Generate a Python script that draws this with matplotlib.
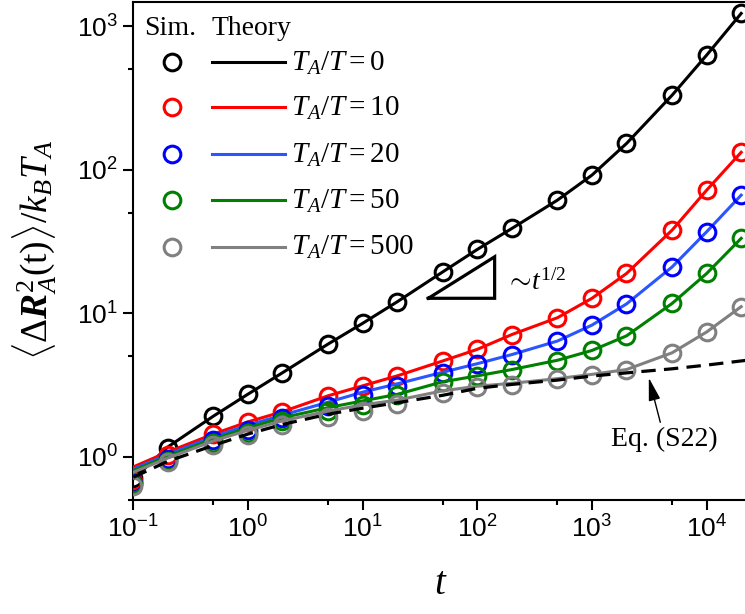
import numpy as np
import matplotlib
matplotlib.use("Agg")
import matplotlib.pyplot as plt
from matplotlib.ticker import LogLocator, NullFormatter

plt.rcParams["font.family"] = ["Liberation Sans", "DejaVu Sans"]
plt.rcParams["mathtext.fontset"] = "custom"
plt.rcParams["mathtext.rm"] = "Liberation Serif"
plt.rcParams["mathtext.it"] = "Liberation Serif:italic"
plt.rcParams["mathtext.bf"] = "Liberation Serif:bold:italic"

# time points (simulation and theory share the grid)
t = [0.1, 0.2, 0.5, 1, 2, 5, 10, 20, 50, 100, 200, 500, 1000, 2000, 5000, 10000, 20000]

# simulation (circles)
sim_0 = [0.71, 1.16, 1.92, 2.73, 3.85, 6.1, 8.5, 12.0, 19.4, 27.8, 38.9, 61.3, 91.6, 152, 330, 627, 1224]
sim_10 = [0.68, 1.03, 1.44, 1.75, 2.06, 2.66, 3.12, 3.66, 4.65, 5.6, 7.1, 9.3, 12.7, 18.9, 37.9, 71.9, 132]
sim_20 = [0.66, 0.97, 1.31, 1.53, 1.85, 2.26, 2.69, 3.1, 3.82, 4.4, 5.11, 6.4, 8.26, 11.6, 21.0, 36.9, 66.4]
sim_50 = [0.65, 0.94, 1.25, 1.46, 1.77, 2.1, 2.3, 2.69, 3.3, 3.66, 4.01, 4.68, 5.5, 6.95, 11.7, 18.9, 33.2]
sim_500 = [0.63, 0.92, 1.2, 1.42, 1.66, 1.9, 2.08, 2.33, 2.76, 3.05, 3.16, 3.5, 3.71, 4.01, 5.3, 7.4, 11.1]

# theory (lines)
th_0 = [0.70, 1.17, 1.92, 2.73, 3.85, 6.1, 8.5, 12.0, 19.4, 27.8, 38.9, 61.3, 91.6, 152, 330, 627, 1224]
th_10 = [0.85, 1.08, 1.44, 1.75, 2.06, 2.66, 3.12, 3.66, 4.65, 5.6, 7.1, 9.3, 12.7, 18.9, 37.9, 71.9, 132]
th_20 = [0.82, 1.04, 1.38, 1.66, 1.95, 2.4, 2.82, 3.22, 3.88, 4.45, 5.15, 6.4, 8.26, 11.6, 21.0, 36.9, 66.4]
th_50 = [0.80, 1.01, 1.33, 1.59, 1.87, 2.2, 2.45, 2.72, 3.33, 3.66, 4.05, 4.7, 5.5, 6.95, 11.7, 18.9, 33.2]
th_500 = [0.78, 0.98, 1.29, 1.53, 1.78, 2.08, 2.3, 2.48, 2.88, 3.1, 3.25, 3.5, 3.75, 4.05, 5.3, 7.4, 11.1]

# Eq. (S22), dashed
t_eq = [0.1, 0.2, 0.5, 1, 2, 5, 10, 20, 50, 100, 200, 500, 1000, 2000, 5000, 10000, 20000, 25000]
eq_s22 = [0.72, 0.93, 1.2, 1.44, 1.68, 1.98, 2.18, 2.38, 2.68, 3.0, 3.19, 3.42, 3.65, 3.84, 4.1, 4.35, 4.65, 4.75]

ratios = ["0", "10", "20", "50", "500"]
sim_series = [sim_0, sim_10, sim_20, sim_50, sim_500]
th_series = [th_0, th_10, th_20, th_50, th_500]
marker_colors = ["black", "#FF0000", "#0000FF", "#008000", "#808080"]
line_colors = ["black", "#FF0000", "#2a55ff", "#008000", "#808080"]

# slope triangle ~ t^(1/2)
tri_t = [37.4, 141.6]
tri_y0 = 12.7
tri_slope = 0.5

W, H = 745, 614
fig = plt.figure(figsize=(W / 100, H / 100), dpi=100)
ax_l, ax_r, ax_t, ax_b = 133.3, 745, 2, 500
ax = fig.add_axes([ax_l / W, 1 - ax_b / H, (ax_r - ax_l) / W, (ax_b - ax_t) / H])

for k in range(len(ratios) - 1, -1, -1):
    ax.plot(t, th_series[k], color=line_colors[k], lw=2.2, zorder=3 + k * 0.1)
    ax.plot(t, sim_series[k], ls="none", marker="o", ms=12, mfc="none",
            mec=marker_colors[k], mew=2.2, zorder=3 + k * 0.1)

ax.plot(t_eq, eq_s22, color="black", lw=2.3, dashes=(4.5, 2.6), zorder=4)

# triangle
tri_y1 = tri_y0 * (tri_t[1] / tri_t[0]) ** tri_slope
ax.plot([tri_t[0], tri_t[1], tri_t[1], tri_t[0]],
        [tri_y0, tri_y0, tri_y1, tri_y0], color="black", lw=2.3,
        solid_joinstyle="miter", zorder=5)
ax.text(174, 14.5, r"$\sim\! t^{1/2}$", fontsize=20, ha="left", va="baseline")

ax.annotate("Eq. (S22)", xy=(3130, 3.55), xytext=(4300, 1.33),
            fontsize=20, family="Liberation Serif", ha="center", va="center",
            arrowprops=dict(arrowstyle="-|>,head_length=0.7,head_width=0.18",
                            color="black", lw=1.0, shrinkA=1, shrinkB=0))

ax.set_xscale("log")
ax.set_yscale("log")
ax.set_xlim(0.1, 2.16e4)
ax.set_ylim(0.5, 1470)

for axis in (ax.xaxis, ax.yaxis):
    axis.set_major_locator(LogLocator(base=10, numticks=20))
    axis.set_minor_locator(LogLocator(base=10, subs=[5], numticks=20))
    axis.set_minor_formatter(NullFormatter())

ax.tick_params(which="major", direction="out", length=7.2, width=1.5,
               labelsize=19, pad=4)
ax.tick_params(which="minor", direction="out", length=3.6, width=1.5)
for side in ("left", "bottom", "top"):
    ax.spines[side].set_linewidth(1.5)
ax.spines["right"].set_visible(False)

# legend, drawn by hand to keep the two columns
tr = ax.transAxes
fig.canvas.draw()
ax.text(0.0185, 0.934, "Sim.", transform=tr, fontsize=20,
        family="Liberation Serif", ha="left", va="baseline")
ax.text(0.128, 0.934, "Theory", transform=tr, fontsize=20,
        family="Liberation Serif", ha="left", va="baseline")
row_y = [0.880, 0.789, 0.695, 0.602, 0.509]
for k in range(len(ratios)):
    y = row_y[k]
    ax.plot([0.0628], [y], transform=tr, ls="none", marker="o", ms=12,
            mfc="none", mec=marker_colors[k], mew=2.2, clip_on=False)
    ax.plot([0.128, 0.248], [y, y], transform=tr, color=line_colors[k],
            lw=2.2, clip_on=False)
    ax.text(0.257, y - 0.0175, r"$T_A/T = %s$" % ratios[k], transform=tr,
            fontsize=21, ha="left", va="baseline")

fig.text(35 / W, 1 - 250 / H,
         r"$\langle\Delta\mathbf{R}_A^2\mathrm{(t)}\rangle/k_B T_A$",
         rotation=90, fontsize=27, ha="center", va="center")
fig.text(440 / W, 1 - 585 / H, "t", fontsize=28, style="italic",
         family="Liberation Serif", ha="center", va="center")

fig.savefig("out.png", dpi=100)
